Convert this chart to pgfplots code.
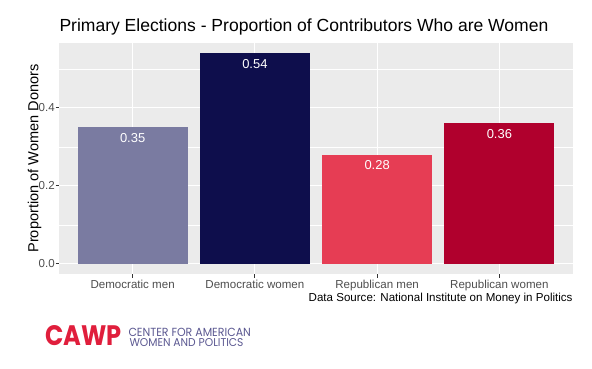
\documentclass[border=0pt]{standalone}
\usepackage{pgfplots}
\pgfplotsset{compat=1.18}
\usepackage{fontspec}
\setmainfont{Liberation Sans}
\newfontfamily\logofont{Poppins}
\definecolor{panelbg}{HTML}{EBEBEB}
\definecolor{demmen}{HTML}{7A7BA1}
\definecolor{demwomen}{HTML}{0E0E4C}
\definecolor{repmen}{HTML}{E63D54}
\definecolor{repwomen}{HTML}{B0002D}
\definecolor{ticktext}{HTML}{4D4D4D}
\definecolor{tickline}{HTML}{333333}
\definecolor{cawpred}{HTML}{E01E3C}
\definecolor{cawppurple}{HTML}{5B5891}
\begin{document}
\begin{tikzpicture}[x=1bp,y=1bp]
\useasboundingbox (0,0) rectangle (592,368);
\begin{axis}[
  at={(59.3bp,93.7bp)}, anchor=south west,
  width=513.4bp, height=231.6bp, scale only axis,
  xmin=-0.6, xmax=3.6, ymin=-0.027, ymax=0.567,
  axis line style={draw=none},
  axis background/.style={fill=panelbg},
  xtick={0,1,2,3},
  xticklabels={Democratic men, Democratic women, Republican men, Republican women},
  ytick={0,0.2,0.4}, yticklabels={0.0,0.2,0.4},
  minor ytick={0.1,0.3,0.5},
  xmajorgrids, ymajorgrids, yminorgrids,
  major grid style={white, line width=1.07bp},
  minor grid style={white, line width=0.53bp},
  tick align=outside, major tick length=3.6bp, minor tick length=0pt,
  xtick pos=bottom, ytick pos=left,
  every tick/.style={tickline, line width=1.07bp, draw},
  ticklabel style={font=\fontsize{11.6}{13}\selectfont, text=ticktext},
  yticklabel style={xshift=2.5bp},
  xticklabel style={yshift=1.5bp},
  ylabel={Proportion of Women Donors},
  ylabel style={font=\fontsize{14.6}{16}\selectfont, at={(axis description cs:-0.0409,0.5)}, anchor=base, rotate=0},
  ybar, bar width=0.9, bar shift=0pt,
  point meta=explicit symbolic,
  nodes near coords={\pgfplotspointmeta},
  every node near coord/.append style={anchor=center, yshift=-10.6bp, text=white, font=\fontsize{13}{14}\selectfont},
]
\addplot[fill=demmen, draw=none] coordinates {(0,0.35) [0.35]};
\addplot[fill=demwomen, draw=none] coordinates {(1,0.54) [0.54]};
\addplot[fill=repmen, draw=none] coordinates {(2,0.28) [0.28]};
\addplot[fill=repwomen, draw=none] coordinates {(3,0.36) [0.36]};
\end{axis}
\node[anchor=base west, inner sep=0, font=\fontsize{17.6}{19}\selectfont] at (59.3,336.3) {Primary Elections - Proportion of Contributors Who are Women};
\node[anchor=base east, inner sep=0, font=\fontsize{11.6}{13}\selectfont] at (572.7,66.3) {Data Source: National Institute on Money in Politics};
\node[anchor=south west, inner sep=0, text=cawpred] at (45,22.5) {\resizebox{76.5bp}{20bp}{\logofont\bfseries CAWP}};
\node[anchor=south west, inner sep=0, text=cawppurple] at (128.3,31.3) {\resizebox{122.4bp}{8.3bp}{\logofont CENTER FOR AMERICAN}};
\node[anchor=south west, inner sep=0, text=cawppurple] at (129.3,21.3) {\resizebox{114bp}{8bp}{\logofont WOMEN AND POLITICS}};
\end{tikzpicture}
\end{document}
